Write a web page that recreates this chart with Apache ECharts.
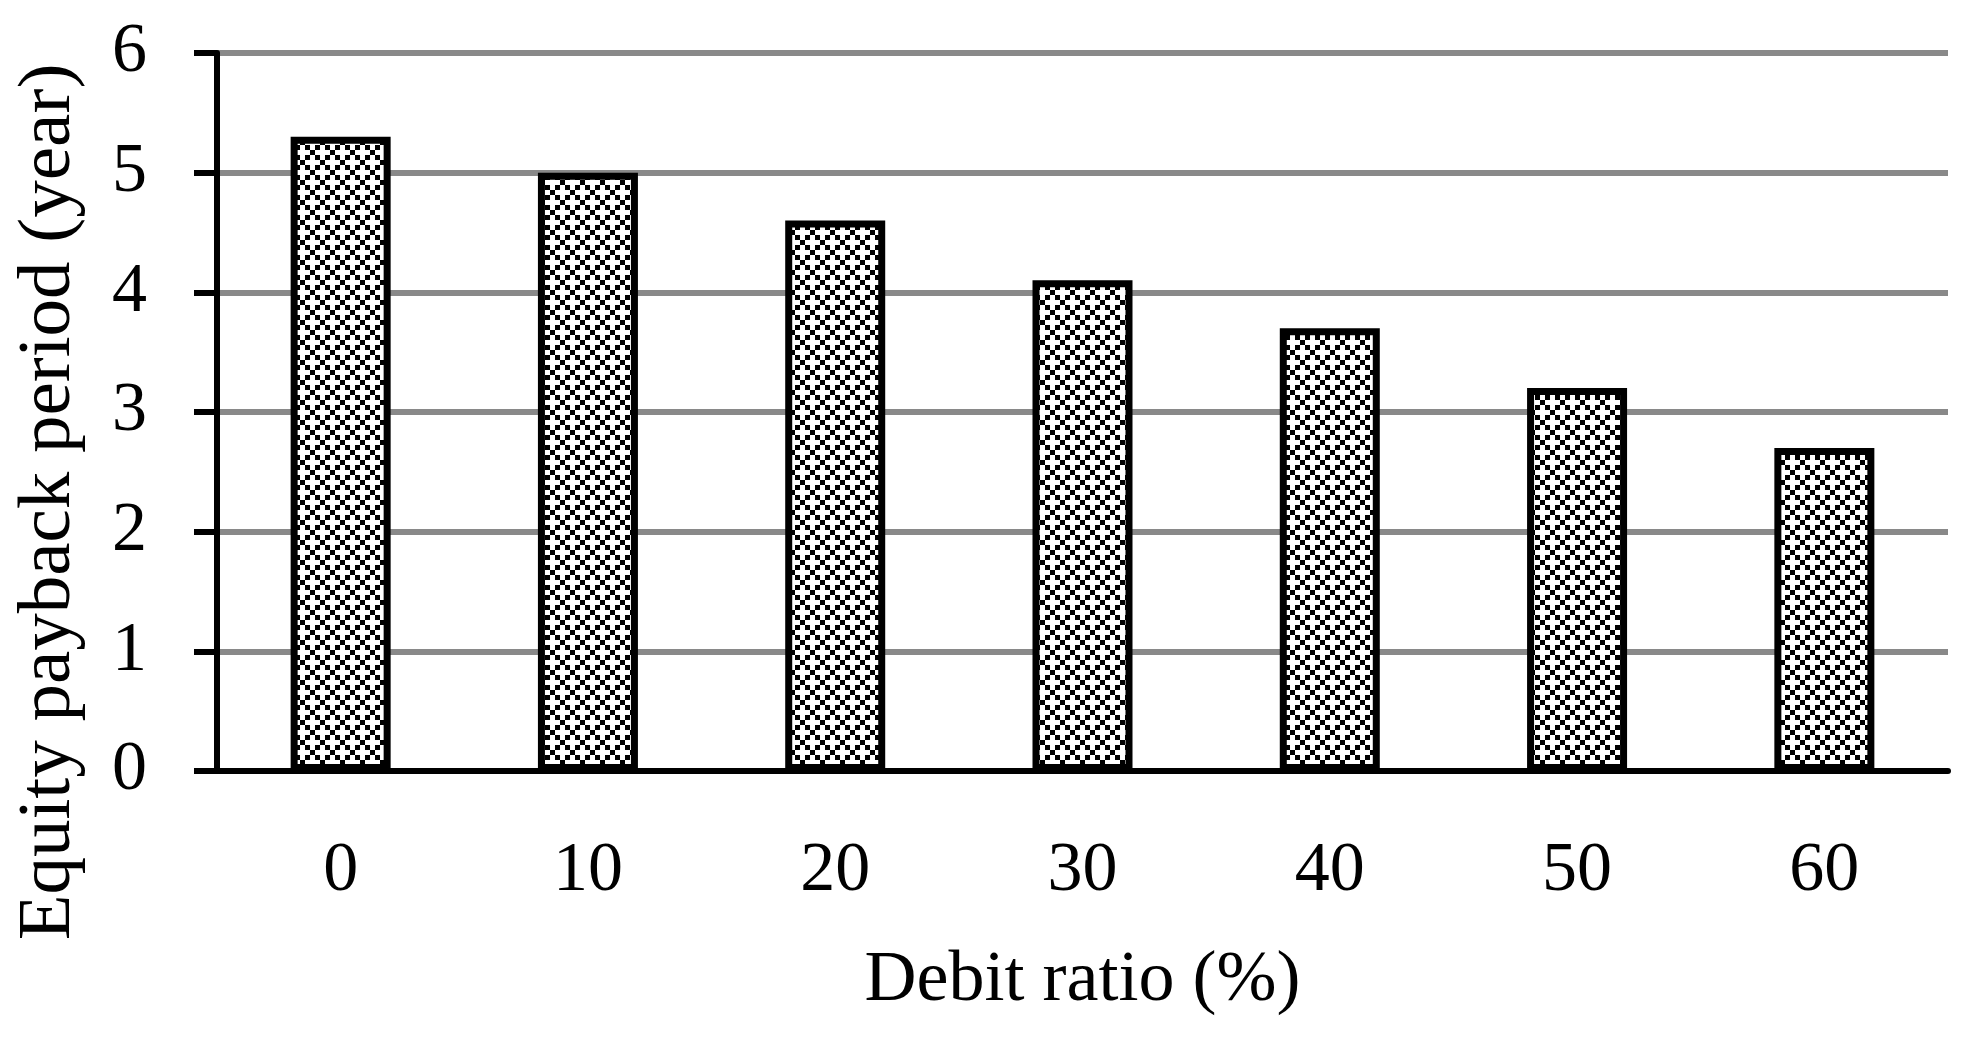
<!DOCTYPE html>
<html>
<head>
<meta charset="utf-8">
<script src="https://cdn.jsdelivr.net/npm/echarts@6/dist/echarts.min.js"></script>
<style>
  html, body { margin: 0; padding: 0; background: #fff; }
  #main { width: 1982px; height: 1040px; }
</style>
</head>
<body>
<div id="main"></div>
<script>
const debitRatio = ['0', '10', '20', '30', '40', '50', '60'];
const paybackYears = [5.3, 5.0, 4.6, 4.1, 3.7, 3.2, 2.7];
const yTicks = [0, 1, 2, 3, 4, 5, 6];

// small dotted fill, like the excel pattern
function makePattern() {
  const cell = 5;
  const cells = [[0, 0], [1, 1], [1, 3], [2, 2], [3, 1], [3, 3]];
  const c = document.createElement('canvas');
  c.width = cell * 4;
  c.height = cell * 4;
  const ctx = c.getContext('2d');
  ctx.fillStyle = '#fff';
  ctx.fillRect(0, 0, c.width, c.height);
  ctx.fillStyle = '#000';
  cells.forEach(function (p) {
    ctx.fillRect(p[1] * cell, p[0] * cell, cell, cell);
  });
  return c;
}

var chartDom = document.getElementById('main');
var myChart = echarts.init(chartDom);
var option;
const font = 'Liberation Serif';

option = {
  animation: false,
  backgroundColor: '#fff',
  grid: {
    left: 217,
    right: 34,
    top: 53,
    bottom: 269
  },
  xAxis: {
    type: 'category',
    data: debitRatio,
    boundaryGap: true,
    name: 'Debit ratio (%)',
    nameLocation: 'middle',
    nameGap: 174,
    nameTextStyle: { fontFamily: font, fontSize: 72, color: '#000' },
    axisLine: { lineStyle: { color: '#000', width: 6 } },
    axisTick: { length: 24, lineStyle: { color: '#000', width: 6 } },
    axisLabel: { margin: 66, fontFamily: font, fontSize: 70, color: '#000' }
  },
  yAxis: {
    type: 'value',
    min: yTicks[0],
    max: yTicks[yTicks.length - 1],
    interval: 1,
    name: 'Equity payback period (year)',
    nameLocation: 'middle',
    nameGap: 130,
    nameTextStyle: {
      fontFamily: font, fontSize: 75, color: '#000',
      padding: [0, 180, 0, 0]
    },
    axisLine: { show: true, lineStyle: { color: '#000', width: 6 } },
    axisTick: { show: true, length: 23, lineStyle: { color: '#000', width: 6 } },
    axisLabel: { margin: 70, fontFamily: font, fontSize: 70, color: '#000' },
    splitLine: { lineStyle: { color: '#898989', width: 6 } }
  },
  series: [
    {
      name: 'Payback',
      type: 'bar',
      data: paybackYears,
      barWidth: 100,
      itemStyle: {
        color: { image: makePattern(), repeat: 'repeat' },
        borderColor: '#000',
        borderWidth: 7
      }
    }
  ]
};

option && myChart.setOption(option);
</script>
</body>
</html>
